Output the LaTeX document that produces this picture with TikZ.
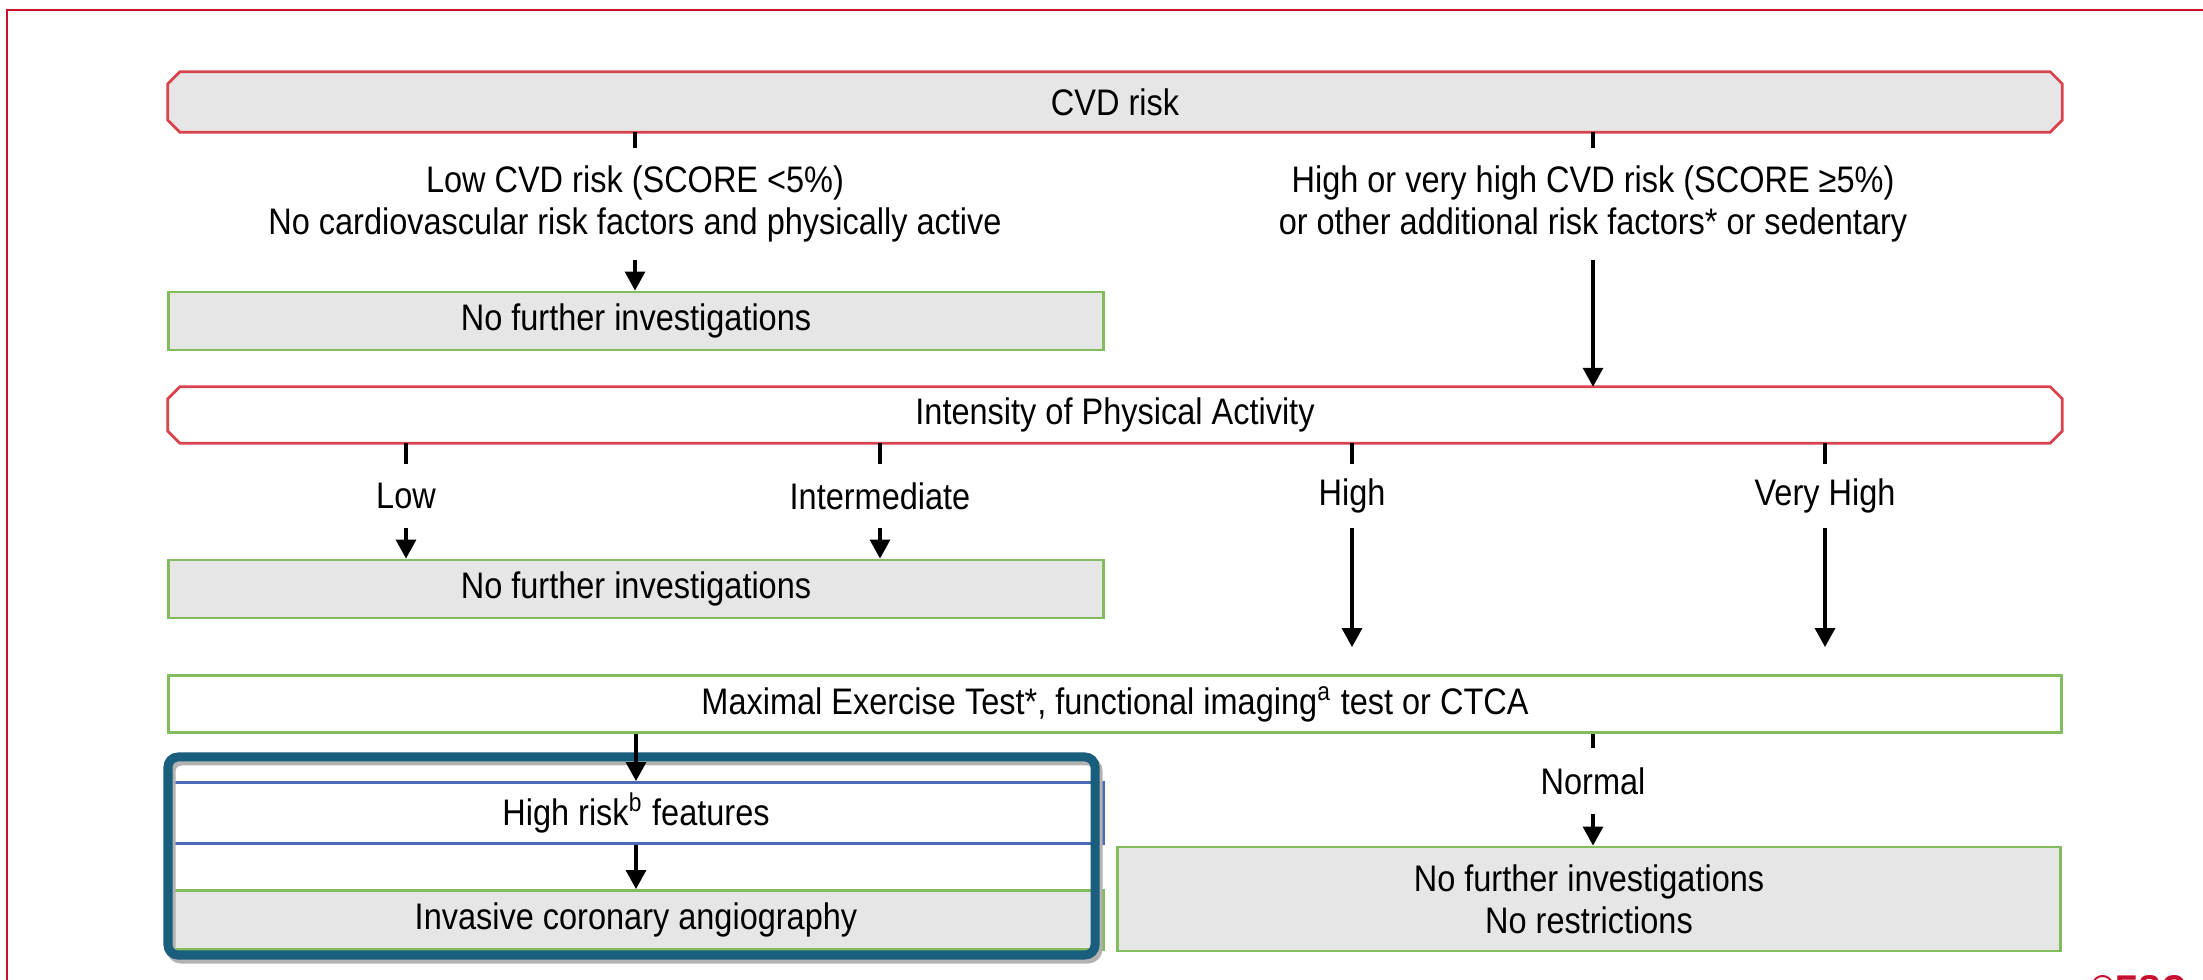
\documentclass[tikz,border=0pt]{standalone}
\usepackage{fontspec}
\setmainfont{Liberation Sans}[FakeStretch=0.88]
\usetikzlibrary{arrows.meta,backgrounds}

\definecolor{escred}{HTML}{C8102E}
\definecolor{boxred}{HTML}{D9434E}
\definecolor{boxgray}{HTML}{E6E6E6}
\definecolor{boxgreen}{HTML}{82BC5C}
\definecolor{riskblue}{HTML}{4A6BB8}
\definecolor{frameblue}{HTML}{1A5E7E}

\tikzset{
  every node/.style={font=\fontsize{10.5}{12}\selectfont},
  headbox/.style={rectangle, minimum width=18.92cm, inner sep=0pt},
  headline/.style={draw=boxred, line width=0.8pt},
  greenbox/.style={rectangle, draw=boxgreen, line width=0.8pt, inner sep=0pt},
  lbl/.style={align=center, inner sep=0pt},
  tick/.style={line width=1.3pt},
  arr/.style={line width=0.9pt, -{Triangle[length=0.19cm,width=0.2cm]}},
  hlframe/.style={draw=frameblue, line width=0.09cm, rounded corners=0.1cm},
}

\begin{document}
\begin{tikzpicture}[x=0.01cm,y=-0.01cm]
\useasboundingbox (0,0) rectangle (2203,980);
\draw[escred, line width=0.6pt] (7,10) rectangle (2240,1010);

% risk assessment
\node[headbox, minimum height=0.59cm] (cvd) at (1115,102) {CVD risk};
\node[lbl, minimum height=1.11cm] (lowrisk) at (635,204)
  {Low CVD risk (SCORE <5\%)\\No cardiovascular risk factors and physically active};
\node[lbl, minimum height=1.11cm] (highrisk) at (1593,204)
  {High or very high CVD risk (SCORE ≥5\%)\\or other additional risk factors* or sedentary};
\node[greenbox, fill=boxgray, minimum width=9.34cm, minimum height=0.58cm] (nofurther) at (636,321) {No further investigations};

% physical activity
\node[headbox, minimum height=0.55cm] (intensity) at (1115,415) {Intensity of Physical Activity};
\node[lbl, minimum height=0.63cm] (low) at (406,496) {Low};
\node[lbl, minimum height=0.63cm] (inter) at (880,496) {Intermediate};
\node[lbl, minimum height=0.63cm] (high) at (1352,496) {High};
\node[lbl, minimum height=0.63cm] (veryhigh) at (1825,496) {Very High};
\node[greenbox, fill=boxgray, minimum width=9.34cm, minimum height=0.58cm] (nofurtherb) at (636,589) {No further investigations};

% chamfered outlines of the two headers
\begin{scope}[on background layer]
\foreach \b/\f in {cvd/boxgray, intensity/white}
  \filldraw[headline, fill=\f] ([xshift=0.12cm]\b.north west) -- ([xshift=-0.12cm]\b.north east)
    -- ([yshift=-0.12cm]\b.north east) -- ([yshift=0.12cm]\b.south east)
    -- ([xshift=-0.12cm]\b.south east) -- ([xshift=0.12cm]\b.south west)
    -- ([yshift=0.12cm]\b.south west) -- ([yshift=-0.12cm]\b.north west) -- cycle;
\end{scope}

% testing
\node[greenbox, fill=white, minimum width=18.92cm, minimum height=0.57cm] (maxtest) at (1115,704)
  {Maximal Exercise Test*, functional imaging\textsuperscript{a} test or CTCA};
\node[lbl, minimum height=0.64cm] (normal) at (1593,781) {Normal};
\node[draw=riskblue, line width=0.8pt, fill=white, inner sep=0pt, minimum width=9.34cm, minimum height=0.61cm] (hrfeat) at (636,813) {High risk\textsuperscript{b} features};
\node[greenbox, fill=boxgray, minimum width=9.34cm, minimum height=0.59cm] (ica) at (636,920) {Invasive coronary angiography};
\node[greenbox, fill=boxgray, align=center, minimum width=9.43cm, minimum height=1.04cm] (nofurtherc) at (1589,899)
  {No further investigations\\No restrictions};

\draw[black!30, line width=0.09cm, rounded corners=0.1cm] (171,761) rectangle (1098,959);
\draw[hlframe] (168,757) rectangle (1095,955);

% connectors
\draw[tick] (cvd.south -| lowrisk) -- (lowrisk.north);
\draw[tick] (cvd.south -| highrisk) -- (highrisk.north);
\draw[arr] (lowrisk.south) -- (lowrisk.south |- nofurther.north);
\draw[arr] (highrisk.south) -- (highrisk.south |- intensity.north);
\foreach \n in {low,inter,high,veryhigh}
  \draw[tick] (intensity.south -| \n) -- (\n.north);
\foreach \n in {low,inter}
  \draw[arr] (\n.south) -- (\n.south |- nofurtherb.north);
\foreach \n in {high,veryhigh}
  \draw[arr, shorten >=0.27cm] (\n.south) -- (\n.south |- maxtest.north);
\draw[arr] (maxtest.south -| hrfeat) -- (hrfeat.north);
\draw[arr] (hrfeat.south) -- (ica.north);
\draw[tick] (maxtest.south -| normal) -- (normal.north);
\draw[arr] (normal.south) -- (normal.south |- nofurtherc.north);

\node[anchor=north west, inner sep=0pt, text=escred, font=\fontsize{11}{13}\selectfont\bfseries] (esc) at (2090,975) {©ESC};
\end{tikzpicture}
\end{document}
